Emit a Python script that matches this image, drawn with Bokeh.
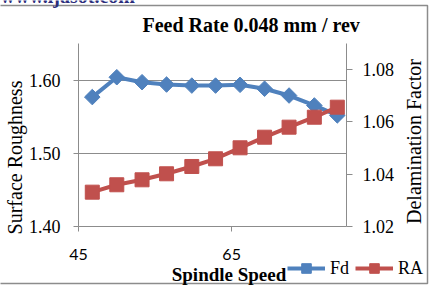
import numpy as np
from bokeh.plotting import figure
from bokeh.layouts import column
from bokeh.models import (Range1d, LinearAxis, FixedTicker, Legend, LegendItem, Label,
                          NumeralTickFormatter)
from bokeh.embed import file_html
from bokeh.resources import INLINE

# ---- data ----
spindle_speed = [46.8, 50.0, 53.3, 56.5, 59.8, 62.9, 66.1, 69.3, 72.5, 75.8, 78.8]
fd_values = [1.0695, 1.0771, 1.0752, 1.0743, 1.0739, 1.0739, 1.0742, 1.0727, 1.0701, 1.0663, 1.0625]
ra_values = [1.4469, 1.4570, 1.4638, 1.4720, 1.4820, 1.4925, 1.5075, 1.5220, 1.5357, 1.5493, 1.5630]
x_ticks = [45, 65, 85]
left_ticks = [1.40, 1.50, 1.60]
right_ticks = [1.02, 1.04, 1.06, 1.08]
title_text = "Feed Rate 0.048 mm / rev"
x_title = "Spindle Speed"
left_title = "Surface Roughness"
right_title = "Delamination Factor"
series_names = ["Fd", "RA"]
watermark = "www.ijasot.com"

# ---- layout ----
W, H = 429, 286
FL, FR, FT, FB = 76, 346, 43, 226
NB = "\u00a0"
BLUE = "#4F81BD"
RED = "#C0504D"
GRAY = "#8C8C8C"
SERIF = "Liberation Serif"

p = figure(width=W, height=H, output_backend="svg", toolbar_location=None,
           x_range=Range1d(45, 80), y_range=Range1d(1.40, 1.65),
           min_border_left=FL, min_border_right=W - FR,
           min_border_top=FT, min_border_bottom=H - FB)
p.extra_y_ranges = {"right": Range1d(1.02, 1.09)}
p.outline_line_color = None
p.border_fill_color = "white"

# title
p.title.text = title_text
p.title.align = "left"
p.title.offset = 140 - FL
p.title.standoff = 15
p.title.text_font = SERIF
p.title.text_font_size = "20px"
p.title.text_font_style = "bold"
p.title.text_color = "black"

# grids
p.xgrid.visible = False
p.ygrid.ticker = FixedTicker(ticks=left_ticks)
p.ygrid.grid_line_color = GRAY

# bottom axis
xa = p.xaxis[0]
xa.ticker = FixedTicker(ticks=x_ticks)
xa.axis_line_color = GRAY
xa.major_tick_line_color = GRAY
xa.major_tick_out = 5
xa.major_tick_in = 0
xa.minor_tick_line_color = None
xa.major_label_standoff = 17
xa.major_label_text_font = "Lato"
xa.major_label_text_font_size = "16px"
xa.major_label_text_color = "black"

# left axis
ya = p.yaxis[0]
ya.ticker = FixedTicker(ticks=left_ticks)
ya.formatter = NumeralTickFormatter(format="0.00")
ya.axis_line_color = GRAY
ya.major_tick_line_color = GRAY
ya.major_tick_out = 5
ya.major_tick_in = 0
ya.minor_tick_line_color = None
ya.major_label_standoff = 13
ya.major_label_text_font = SERIF
ya.major_label_text_font_size = "18px"
ya.major_label_text_color = "black"
ya.axis_label = left_title + NB * 9
ya.axis_label_standoff = 0
ya.axis_label_text_font = SERIF
ya.axis_label_text_font_size = "20px"
ya.axis_label_text_font_style = "normal"
ya.axis_label_text_color = "black"

# right axis
ra_axis = LinearAxis(y_range_name="right", ticker=FixedTicker(ticks=right_ticks),
                     formatter=NumeralTickFormatter(format="0.00"))
ra_axis.axis_line_color = GRAY
ra_axis.major_tick_line_color = GRAY
ra_axis.major_tick_out = 6
ra_axis.major_tick_in = 0
ra_axis.minor_tick_line_color = None
ra_axis.major_label_standoff = 10
ra_axis.major_label_text_font = SERIF
ra_axis.major_label_text_font_size = "18px"
ra_axis.major_label_text_color = "black"
p.add_layout(ra_axis, "right")

# series
p.line(spindle_speed, fd_values, y_range_name="right", line_color=BLUE, line_width=4)
p.scatter(spindle_speed, fd_values, y_range_name="right", marker="square",
          angle=np.pi / 4, size=11, fill_color=BLUE, line_color=BLUE)
p.line(spindle_speed, ra_values, line_color=RED, line_width=4)
p.scatter(spindle_speed, ra_values, marker="square", size=14,
          fill_color=RED, line_color=RED)

# ---- transparent overlay for texts / legend outside the plot frame ----
# its ranges are in canvas pixels (y measured from the top)
ov = figure(width=W, height=H, output_backend="svg", toolbar_location=None,
            x_axis_type=None, y_axis_type=None,
            x_range=Range1d(0, W), y_range=Range1d(H, 0),
            min_border=0, min_border_left=0, min_border_right=0,
            min_border_top=0, min_border_bottom=0)
ov.outline_line_color = None
ov.background_fill_alpha = 0
ov.border_fill_alpha = 0
ov.xgrid.visible = False
ov.ygrid.visible = False
for attr, val in (("frame_align", False), ("margin", (-H, 0, 0, 0))):
    try:
        setattr(ov, attr, val)
    except Exception:
        pass

# chart border
ov.quad(left=[-2], right=[427], top=[5], bottom=[283], fill_alpha=0,
        line_color=GRAY, line_width=1.5)

ov.add_layout(Label(x=0, y=-5, text=watermark, text_align="left",
                    text_baseline="alphabetic", text_font=SERIF, text_font_size="20px",
                    text_font_style="bold", text_color="#2B2D7C"))
ov.add_layout(Label(x=413.5, y=141, text=right_title, angle=np.pi / 2,
                    text_align="center", text_baseline="middle", text_font=SERIF,
                    text_font_size="20px", text_color="black"))
ov.add_layout(Label(x=228.5, y=274, text=x_title, text_align="center",
                    text_baseline="alphabetic", text_font=SERIF, text_font_size="19px",
                    text_font_style="bold", text_color="black"))

# legend key renderers (their single point lies outside the overlay's ranges)
k_fd_line = ov.line([-1000, -999], [-1000, -1000], line_color=BLUE, line_width=4)
k_fd_mark = ov.scatter([-1000], [-1000], marker="square", angle=np.pi / 4, size=11,
                       fill_color=BLUE, line_color=BLUE)
k_ra_line = ov.line([-1000, -999], [-1000, -1000], line_color=RED, line_width=4)
k_ra_mark = ov.scatter([-1000], [-1000], marker="square", size=14,
                       fill_color=RED, line_color=RED)

legend = Legend(items=[LegendItem(label=series_names[0], renderers=[k_fd_line, k_fd_mark]),
                       LegendItem(label=series_names[1], renderers=[k_ra_line, k_ra_mark])],
                location=(287, 6), orientation="horizontal",
                glyph_width=38, glyph_height=24, label_standoff=5, spacing=5,
                padding=0, margin=0, border_line_color=None, background_fill_alpha=0,
                label_text_font=SERIF, label_text_font_size="18px",
                label_text_color="black")
ov.add_layout(legend)

page = column(p, ov, spacing=0)
open("out.html", "w").write(file_html(page, INLINE))
